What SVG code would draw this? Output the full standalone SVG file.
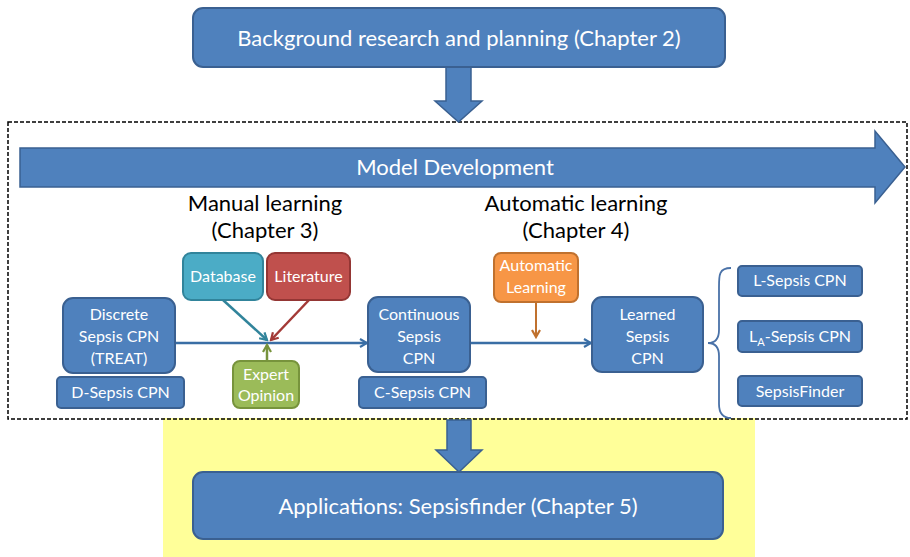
<svg xmlns="http://www.w3.org/2000/svg" width="910" height="557" viewBox="0 0 910 557">
  <defs>
    <style>
      .box { fill: #4F81BD; stroke: #3A6091; stroke-width: 2; }
      .t { font-family: Lato, "Open Sans", "Liberation Sans", sans-serif; fill: #FFFFFF; text-anchor: middle; }
      .big { font-size: 22px; }
      .sm { font-size: 16px; }
      .hd { font-family: Lato, "Open Sans", "Liberation Sans", sans-serif; fill: #000000; text-anchor: middle; font-size: 22px; }
      .link { fill: none; stroke-width: 2.5; }
    </style>
    <marker id="ahBlue" markerWidth="10" markerHeight="10" refX="8" refY="5" orient="auto" markerUnits="userSpaceOnUse">
      <path d="M1,1 L8,5 L1,9" fill="none" stroke="#3A6EA5" stroke-width="2.2"/>
    </marker>
    <marker id="ahTeal" markerWidth="10" markerHeight="10" refX="8" refY="5" orient="auto" markerUnits="userSpaceOnUse">
      <path d="M1,1 L8,5 L1,9" fill="none" stroke="#31849B" stroke-width="2.2"/>
    </marker>
    <marker id="ahRed" markerWidth="10" markerHeight="10" refX="8" refY="5" orient="auto" markerUnits="userSpaceOnUse">
      <path d="M1,1 L8,5 L1,9" fill="none" stroke="#A33A37" stroke-width="2.2"/>
    </marker>
    <marker id="ahGreen" markerWidth="10" markerHeight="10" refX="8" refY="5" orient="auto" markerUnits="userSpaceOnUse">
      <path d="M1,1 L8,5 L1,9" fill="none" stroke="#77933C" stroke-width="2.2"/>
    </marker>
    <marker id="ahOrange" markerWidth="10" markerHeight="10" refX="8" refY="5" orient="auto" markerUnits="userSpaceOnUse">
      <path d="M1,1 L8,5 L1,9" fill="none" stroke="#C0712E" stroke-width="2.2"/>
    </marker>
  </defs>

  <rect x="0" y="0" width="910" height="557" fill="#FFFFFF"/>

  <!-- applications band -->
  <rect x="163" y="418" width="592" height="139" fill="#FFFF99"/>

  <!-- model development frame -->
  <rect x="8" y="122" width="899" height="297" fill="none" stroke="#000000" stroke-width="1.5" stroke-dasharray="4 2"/>

  <!-- block arrows -->
  <g id="flow-arrows" fill="#4F81BD" stroke="#3A6091" stroke-width="1.5">
    <path d="M446,67 L471,67 L471,101 L482,101 L458.5,122 L435,101 L446,101 Z"/>
    <path d="M447,420 L471,420 L471,450 L482,450 L459,472 L436,450 L447,450 Z"/>
    <path d="M20,148 L875,148 L875,131 L905,167 L875,203 L875,187 L20,187 Z"/>
  </g>
  <text class="t big" x="455" y="175">Model Development</text>

  <text class="hd" x="265" y="211">Manual learning</text>
  <text class="hd" x="265" y="238">(Chapter 3)</text>
  <text class="hd" x="576" y="211">Automatic learning</text>
  <text class="hd" x="576" y="238">(Chapter 4)</text>

  <!-- connectors -->
  <g id="connectors" class="link">
    <path d="M175,343 L367,343" stroke="#3A6EA5" marker-end="url(#ahBlue)"/>
    <path d="M470,343 L591,343" stroke="#3A6EA5" marker-end="url(#ahBlue)"/>
    <path d="M223,300 L267,340" stroke="#31849B" marker-end="url(#ahTeal)"/>
    <path d="M309,300 L271,340" stroke="#A33A37" marker-end="url(#ahRed)"/>
    <path d="M267,360 L267,345" stroke="#77933C" marker-end="url(#ahGreen)"/>
    <path d="M536,302 L536,337" stroke="#C0712E" stroke-width="2" marker-end="url(#ahOrange)"/>
    <path d="M731,268 C718,268 719,276 719,290 L719,330 C719,338 716,343 708,343 C716,343 719,348 719,356 L719,404 C719,412 722,418 731,418" stroke="#4A72A8" stroke-width="1.8"/>
  </g>

  <g id="background">
    <rect class="box" x="193" y="8" width="532" height="59" rx="10"/>
    <text class="t big" x="459" y="46">Background research and planning (Chapter 2)</text>
  </g>

  <g id="applications">
    <rect class="box" x="193" y="472" width="530" height="67" rx="10"/>
    <text class="t big" x="458" y="514">Applications: Sepsisfinder (Chapter 5)</text>
  </g>

  <g id="database">
    <rect x="183" y="253" width="80" height="47" rx="8" fill="#4BACC6" stroke="#31849B" stroke-width="2"/>
    <text class="t sm" x="223" y="282">Database</text>
  </g>

  <g id="literature">
    <rect x="267" y="253" width="83" height="47" rx="8" fill="#C0504D" stroke="#943634" stroke-width="2"/>
    <text class="t sm" x="308.5" y="282">Literature</text>
  </g>

  <g id="discrete">
    <rect class="box" x="63" y="298" width="112" height="75" rx="10"/>
    <text class="t sm" x="119" y="320">Discrete</text>
    <text class="t sm" x="119" y="342">Sepsis CPN</text>
    <text class="t sm" x="119" y="364">(TREAT)</text>
  </g>

  <g id="d-sepsis">
    <rect class="box" x="57" y="377" width="127" height="31" rx="4"/>
    <text class="t sm" x="120.5" y="398">D-Sepsis CPN</text>
  </g>

  <g id="expert">
    <rect x="233" y="361" width="66" height="47" rx="7" fill="#9BBB59" stroke="#77933C" stroke-width="2"/>
    <text class="t sm" x="266" y="380">Expert</text>
    <text class="t sm" x="266" y="401">Opinion</text>
  </g>

  <g id="continuous">
    <rect class="box" x="368" y="297" width="102" height="75" rx="10"/>
    <text class="t sm" x="419" y="320">Continuous</text>
    <text class="t sm" x="419" y="342">Sepsis</text>
    <text class="t sm" x="419" y="364">CPN</text>
  </g>

  <g id="c-sepsis">
    <rect class="box" x="359" y="377" width="127" height="31" rx="4"/>
    <text class="t sm" x="422.5" y="398">C-Sepsis CPN</text>
  </g>

  <g id="automatic">
    <rect x="494" y="253" width="84" height="49" rx="7" fill="#F79646" stroke="#C0712E" stroke-width="2"/>
    <text class="t sm" x="536" y="271">Automatic</text>
    <text class="t sm" x="536" y="293">Learning</text>
  </g>

  <g id="learned">
    <rect class="box" x="592" y="297" width="111" height="75" rx="10"/>
    <text class="t sm" x="647.5" y="320">Learned</text>
    <text class="t sm" x="647.5" y="342">Sepsis</text>
    <text class="t sm" x="647.5" y="364">CPN</text>
  </g>

  <g id="l-sepsis">
    <rect class="box" x="738" y="266" width="124" height="30" rx="4"/>
    <text class="t sm" x="800" y="286">L-Sepsis CPN</text>
  </g>

  <g id="la-sepsis">
    <rect class="box" x="738" y="321" width="124" height="31" rx="4"/>
    <text class="t sm" x="800" y="342">L<tspan font-size="11" dy="4">A</tspan><tspan dy="-4">-Sepsis CPN</tspan></text>
  </g>

  <g id="sepsisfinder">
    <rect class="box" x="738" y="376" width="124" height="30" rx="4"/>
    <text class="t sm" x="800" y="397">SepsisFinder</text>
  </g>
</svg>
